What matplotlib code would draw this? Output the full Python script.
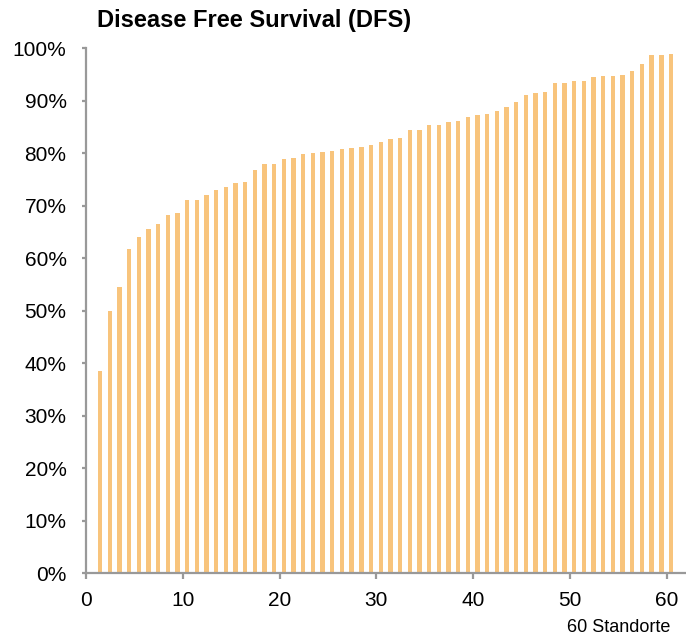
import numpy as np
import matplotlib
matplotlib.use("Agg")
import matplotlib.pyplot as plt
from matplotlib.ticker import PercentFormatter

# DFS rate per site, sorted ascending (fraction of patients)
sites = list(range(1, 61))
dfs = [0.386, 0.500, 0.546, 0.618, 0.641, 0.656, 0.665, 0.682, 0.686, 0.711,
       0.711, 0.721, 0.730, 0.736, 0.744, 0.746, 0.768, 0.779, 0.779, 0.790,
       0.791, 0.799, 0.800, 0.803, 0.804, 0.808, 0.810, 0.812, 0.816, 0.821,
       0.827, 0.829, 0.844, 0.845, 0.854, 0.854, 0.860, 0.862, 0.869, 0.873,
       0.874, 0.881, 0.888, 0.898, 0.911, 0.915, 0.917, 0.933, 0.934, 0.938,
       0.938, 0.946, 0.947, 0.948, 0.949, 0.957, 0.970, 0.987, 0.988, 0.989]
xticks = [0, 10, 20, 30, 40, 50, 60]
yticks = np.arange(0, 1.01, 0.1)

plt.rcParams['font.family'] = ['Liberation Sans', 'DejaVu Sans']

fig = plt.figure(figsize=(6.86, 6.43), dpi=100)
ax = fig.add_axes([0.1254, 0.1084, 0.8746, 0.8165])

ax.bar(np.array(sites) + 0.45, dfs, width=0.45, color='#F8C47C', linewidth=0)

ax.set_xlim(0, 62)
ax.set_ylim(0, 1.0)
ax.set_xticks(xticks)
ax.set_yticks(yticks)
ax.yaxis.set_major_formatter(PercentFormatter(1.0, decimals=0))

for side in ['top', 'right']:
    ax.spines[side].set_visible(False)
for side in ['left', 'bottom']:
    ax.spines[side].set_color('#999999')
    ax.spines[side].set_linewidth(1.6)

ax.tick_params(axis='y', direction='out', length=3, width=1.6, color='#999999',
               labelsize=15, pad=11)
ax.tick_params(axis='x', direction='out', length=4, width=1.6, color='#999999',
               labelsize=15, pad=9)

fig.text(97 / 686, 1 - 20 / 643, "Disease Free Survival (DFS)", fontsize=17,
         fontweight='bold', ha='left', va='center')
fig.text(670 / 686, 1 - 628 / 643, "60 Standorte", fontsize=13,
         ha='right', va='center')

fig.savefig("out.png", dpi=100)
